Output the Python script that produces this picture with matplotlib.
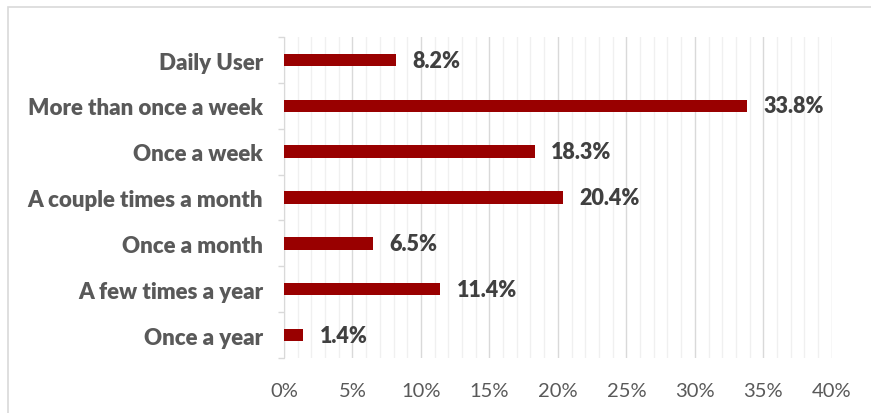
import matplotlib
matplotlib.use("Agg")
import matplotlib.pyplot as plt
from matplotlib.ticker import MultipleLocator, FuncFormatter
from matplotlib.patches import Rectangle

categories = ["Daily User", "More than once a week", "Once a week",
              "A couple times a month", "Once a month", "A few times a year",
              "Once a year"]
values = [8.2, 33.8, 18.3, 20.4, 6.5, 11.4, 1.4]
x_ticks = [0, 5, 10, 15, 20, 25, 30, 35, 40]

BAR = "#990000"
TXT = "#404040"
CAT = "#595959"
TICK = "#595959"

plt.rcParams['font.family'] = ['Lato', 'DejaVu Sans']

fig = plt.figure(figsize=(8.71, 4.14), dpi=100)
ax = fig.add_axes([0.326, 0.133, 0.629, 0.775])

# outer chart border (only left/top visible in the reference)
fig.patches.append(Rectangle((8 / 871, -0.1), 1.2, (414 - 8) / 414 + 0.1,
                             transform=fig.transFigure, fill=False,
                             edgecolor="#d9d9d9", linewidth=1.2))

ypos = list(range(len(categories)))
ax.barh(ypos, values, height=0.27, color=BAR, zorder=3)
for y, v in zip(ypos, values):
    ax.text(v + 1.2, y, f"{v:.1f}%", va="center", ha="left",
            fontsize=15.5, fontweight="heavy", color=TXT)

ax.set_xlim(0, 40)
ax.set_ylim(len(categories) - 0.5, -0.5)
ax.set_xticks(x_ticks)
ax.xaxis.set_major_formatter(FuncFormatter(lambda v, _: f"{v:.0f}%"))
ax.xaxis.set_minor_locator(MultipleLocator(1))
ax.grid(axis="x", which="major", color="#d9d9d9", linewidth=1.0, zorder=0)
ax.grid(axis="x", which="minor", color="#f0f0f0", linewidth=1.0, zorder=0)
ax.tick_params(axis="x", which="both", length=0, labelsize=14.5,
               labelcolor=TICK, pad=17)

ax.set_yticks(ypos)
ax.set_yticklabels(categories, fontsize=16, fontweight="heavy", color=CAT)
ax.set_yticks([i - 0.5 for i in range(len(categories) + 1)], minor=True)
ax.tick_params(axis="y", which="major", length=0, pad=15)
ax.tick_params(axis="y", which="minor", length=4.5, color="#d9d9d9", width=1)

for s in ["top", "right", "bottom"]:
    ax.spines[s].set_visible(False)
ax.spines["left"].set_color("#d9d9d9")

fig.savefig("out.png", dpi=100)
